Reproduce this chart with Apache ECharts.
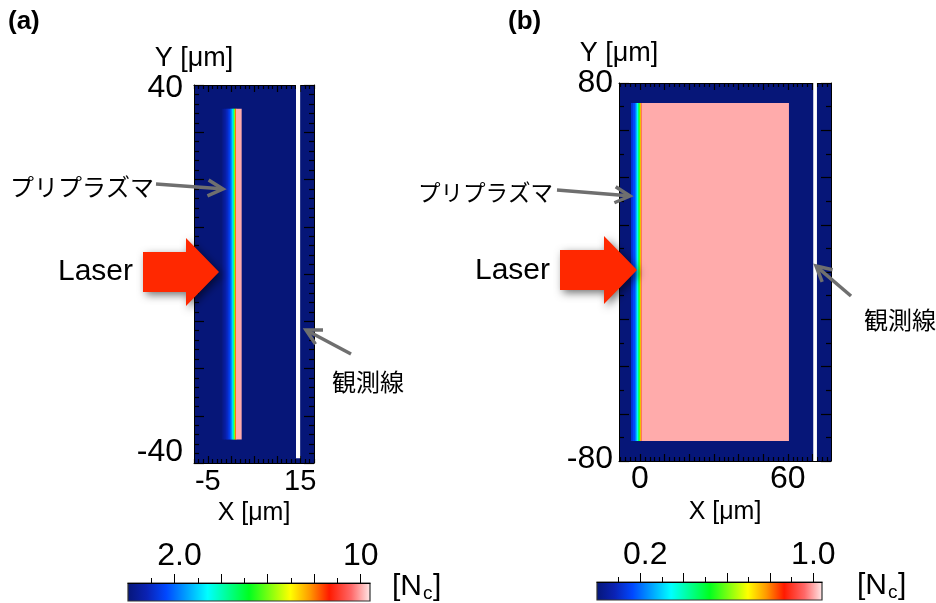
<!DOCTYPE html>
<html><head><meta charset="utf-8">
<script src="https://cdn.jsdelivr.net/npm/echarts@6/dist/echarts.min.js"></script>
<style>html,body{margin:0;padding:0;background:#fff}#c{width:936px;height:603px}</style>
</head><body><div id="c"></div>
<script>
// ---------------- data ----------------
const panelLetters = ['(a)', '(b)'];
const axisNameX = 'X [μm]';
const axisNameY = 'Y [μm]';
const unitMain = '[N';
const unitSub = 'c';
const unitEnd = ']';
const preplasmaText = 'プリプラズマ';
const laserText = 'Laser';
const obsText = '観測線';

// panel (a)
const xRangeA = [-8, 18];
const yRangeA = [-40, 40];
const xMajorA = [-5, 0, 5, 10, 15];
const xLabelA = [-5, 15];
const yMajorA = [-40, -30, -20, -10, 0, 10, 20, 30, 40];
const yLabelA = [-40, 40];
// pre-plasma strips: x edges [µm] and density [Nc]
const preEdgesA = [-2.0, -1.7, -1.4, -1.1, -0.8, -0.5, -0.2, 0.1, 0.35, 0.55, 0.75, 0.9, 1.1];
const preDensA  = [0.2, 0.4, 0.6, 0.85, 1.1, 1.45, 1.9, 2.7, 3.5, 4.8, 6.5, 8.0];
const targetA = [1.1, 2.2, -35, 35, 10];     // x0, x1, y0, y1, density
const obsLineA = [14.1, 15.0, -39, 40];
const cbRangeA = [0, 10.4];
const cbMajorA = [2, 4, 6, 8, 10];
const cbMinorA = [1, 3, 5, 7, 9];
const cbLabelA = [2, 10];
const cbLabelTextA = ['2.0', '10'];

// panel (b)
const xRangeB = [-8.5, 77.5];
const yRangeB = [-80, 80];
const xMajorB = [0, 10, 20, 30, 40, 50, 60, 70];
const xLabelB = [0, 60];
const yMajorB = [-80, -60, -40, -20, 0, 20, 40, 60, 80];
const yLabelB = [-80, 80];
const preEdgesB = [-3.6, -2.8, -2.0, -1.6, -1.2, -0.8, -0.4, 0.0, 0.3, 0.6];
const preDensB  = [0.13, 0.17, 0.22, 0.28, 0.34, 0.45, 0.56, 0.68, 0.85];
const targetB = [0.6, 60.2, -71.5, 71.5, 1.0];
const obsLineB = [70.3, 71.8, -80, 80];
const cbRangeB = [0, 1.04];
const cbMajorB = [0.2, 0.4, 0.6, 0.8, 1.0];
const cbMinorB = [0.1, 0.3, 0.5, 0.7, 0.9];
const cbLabelB = [0.2, 1.0];
const cbLabelTextB = ['0.2', '1.0'];

// ---------------- styles ----------------
const FONT = '"Liberation Sans", Arial, Helvetica, sans-serif';
const JFONT = '"Noto Sans CJK JP", "Noto Sans", sans-serif';
const cmap = [
  [0.00, '#061678'], [0.08, '#0a22b4'], [0.16, '#0048ff'], [0.25, '#00a8ff'],
  [0.33, '#00ffff'], [0.50, '#00ff20'], [0.67, '#ffff00'], [0.75, '#ff9a00'],
  [0.83, '#ff1a00'], [0.92, '#ff6868'], [1.00, '#ffeaea']
];
function hex2rgb(h){return [parseInt(h.substr(1,2),16),parseInt(h.substr(3,2),16),parseInt(h.substr(5,2),16)];}
function cmapColor(t){
  t = Math.max(0, Math.min(1, t));
  for (let i = 1; i < cmap.length; i++) {
    if (t <= cmap[i][0]) {
      const a = cmap[i-1], b = cmap[i];
      const f = (t - a[0]) / (b[0] - a[0]);
      const ca = hex2rgb(a[1]), cb = hex2rgb(b[1]);
      return 'rgb(' + ca.map((v,k)=>Math.round(v + (cb[k]-v)*f)).join(',') + ')';
    }
  }
  return cmap[cmap.length-1][1];
}
function minorTicks(range, step, majors){
  const out = [];
  const start = Math.ceil(range[0]/step)*step;
  for (let v = start; v <= range[1] + 1e-9; v += step) {
    const r = Math.round(v*1000)/1000;
    if (!majors.some(m => Math.abs(m - r) < 1e-6)) out.push(r);
  }
  return out;
}
function fieldRects(xr, yr, edges, dens, target){
  const rows = [[xr[0], xr[1], yr[0], yr[1], 0]];
  for (let i = 0; i < dens.length; i++) rows.push([edges[i], edges[i+1], target[2], target[3], dens[i]]);
  rows.push(target);
  return rows;
}

// ---------------- axes ----------------
function axis(gridIndex, position, range, ticks, len, extra){
  return Object.assign({
    type: 'value', gridIndex, position, min: range[0], max: range[1], z: 3,
    axisLine: {show: true, onZero: false, lineStyle: {color: '#000', width: 1}},
    axisTick: {show: true, inside: true, length: len, customValues: ticks, lineStyle: {color: '#000', width: 1.2}},
    axisLabel: {show: false},
    splitLine: {show: false}, minorTick: {show: false}, minorSplitLine: {show: false}
  }, extra || {});
}
function panelAxes(g, xr, yr, xMaj, xMinStep, xLab, yMaj, yMinStep, yLab, o){
  const xMin = minorTicks(xr, xMinStep, xMaj), yMin = minorTicks(yr, yMinStep, yMaj);
  const xs = [
    axis(g, 'bottom', xr, xMaj, o.xMajLen, {
      axisLabel: {show: true, customValues: xLab, fontSize: o.xFont, fontFamily: FONT, color: '#000', margin: o.xMargin},
      name: axisNameX, nameLocation: 'middle', nameGap: o.xNameGap,
      nameTextStyle: {fontSize: 25, fontFamily: FONT, color: '#000'}
    }),
    axis(g, 'bottom', xr, xMin, o.xMinLen, {axisLine: {show: false, onZero: false}}),
    axis(g, 'top', xr, xMaj, o.xMajLen),
    axis(g, 'top', xr, xMin, o.xMinLen, {axisLine: {show: false, onZero: false}})
  ];
  const ys = [
    axis(g, 'left', yr, yMaj, o.yMajLen, {
      axisLabel: {show: true, customValues: yLab, color: '#000', margin: o.yMargin,
        formatter: v => (v > 0 ? '{t|' + v + '}' : '{b|' + v + '}'),
        rich: {
          t: {fontSize: 32, fontFamily: FONT, color: '#000', padding: o.topPad},
          b: {fontSize: 32, fontFamily: FONT, color: '#000', padding: o.botPad}
        }},
      name: axisNameY, nameLocation: 'end', nameGap: o.yNameGap,
      nameTextStyle: {fontSize: 27, fontFamily: FONT, color: '#000'}
    }),
    axis(g, 'left', yr, yMin, o.yMinLen, {axisLine: {show: false, onZero: false}}),
    axis(g, 'right', yr, yMaj, o.yMajLen),
    axis(g, 'right', yr, yMin, o.yMinLen, {axisLine: {show: false, onZero: false}})
  ];
  return {xs, ys};
}
const axA = panelAxes(0, xRangeA, yRangeA, xMajorA, 1, xLabelA, yMajorA, 2, yLabelA,
  {xMajLen: 7, xMinLen: 4, yMajLen: 10, yMinLen: 5, xFont: 29, xMargin: 4, xNameGap: 30,
   yMargin: 11, yNameGap: 11, topPad: [6, 0, 0, 0], botPad: [0, 0, 22, 0]});
const axB = panelAxes(1, xRangeB, yRangeB, xMajorB, 2, xLabelB, yMajorB, 10, yLabelB,
  {xMajLen: 7, xMinLen: 4, yMajLen: 10, yMinLen: 5, xFont: 32, xMargin: 2, xNameGap: 33,
   yMargin: 6, yNameGap: 12, topPad: [0, 0, 0, 0], botPad: [0, 0, 4, 0]});

function cbAxes(g, range, maj, minr, labs, texts){
  return [
    {type: 'value', gridIndex: g, position: 'top', min: range[0], max: range[1], z: 3,
     axisLine: {show: true, onZero: false, lineStyle: {color: '#000'}},
     axisTick: {show: true, inside: false, length: 9, customValues: maj, lineStyle: {color: '#000'}},
     axisLabel: {show: true, customValues: labs, margin: 11, color: '#000',
       formatter: (v) => { const i = labs.findIndex(l => Math.abs(l - v) < 1e-6); return i === 0 ? '{f|' + texts[i] + '}' : '{n|' + texts[i] + '}'; },
       rich: {f: {fontSize: 32, fontFamily: FONT, color: '#000', padding: [0, 0, 0, 10]},
              n: {fontSize: 32, fontFamily: FONT, color: '#000'}}},
     splitLine: {show: false}},
    {type: 'value', gridIndex: g, position: 'top', min: range[0], max: range[1], z: 3,
     axisLine: {show: false, onZero: false},
     axisTick: {show: true, inside: false, length: 5, customValues: minr, lineStyle: {color: '#000'}},
     axisLabel: {show: false}, splitLine: {show: false}}
  ];
}
const cbXA = cbAxes(2, cbRangeA, cbMajorA, cbMinorA, cbLabelA, cbLabelTextA);
const cbXB = cbAxes(3, cbRangeB, cbMajorB, cbMinorB, cbLabelB, cbLabelTextB);
const cbY = g => ({type: 'value', gridIndex: g, min: 0, max: 1, show: false});

// ---------------- series ----------------
function fieldSeries(xi, yi, rows, vmax){
  return {
    type: 'custom', coordinateSystem: 'cartesian2d', xAxisIndex: xi, yAxisIndex: yi,
    clip: true, z: 1, silent: true, data: rows, encode: {x: [0, 1], y: [2, 3]},
    renderItem(params, api){
      const p0 = api.coord([api.value(0), api.value(3)]);
      const p1 = api.coord([api.value(1), api.value(2)]);
      return {type: 'rect', shape: {x: p0[0], y: p0[1], width: p1[0] - p0[0] + 0.6, height: p1[1] - p0[1]},
              style: {fill: cmapColor(api.value(4) / vmax)}};
    }
  };
}
function lineSeries(xi, yi, row){
  return {
    type: 'custom', coordinateSystem: 'cartesian2d', xAxisIndex: xi, yAxisIndex: yi,
    clip: false, z: 5, silent: true, data: [row], encode: {x: [0, 1], y: [2, 3]},
    renderItem(params, api){
      const p0 = api.coord([api.value(0), api.value(3)]);
      const p1 = api.coord([api.value(1), api.value(2)]);
      return {type: 'rect', shape: {x: p0[0], y: p0[1] - 1, width: p1[0] - p0[0], height: p1[1] - p0[1] + 1},
              style: {fill: '#ffffff'}};
    }
  };
}
function colorbarSeries(xi, yi, range){
  return {
    type: 'custom', coordinateSystem: 'cartesian2d', xAxisIndex: xi, yAxisIndex: yi,
    clip: false, z: 1, silent: true, data: [[range[0], range[1]]], encode: {x: [0, 1]},
    renderItem(params, api){
      const p0 = api.coord([api.value(0), 1]);
      const p1 = api.coord([api.value(1), 0]);
      return {type: 'rect', shape: {x: p0[0], y: p0[1], width: p1[0] - p0[0], height: p1[1] - p0[1]},
              style: {fill: new echarts.graphic.LinearGradient(0, 0, 1, 0,
                cmap.map(s => ({offset: s[0], color: s[1]}))), stroke: '#333', lineWidth: 1.2}};
    }
  };
}

// ---------------- annotations ----------------
const GRAY = '#6f6f6f';
function grayArrow(x1, y1, x2, y2){
  const dx = x2 - x1, dy = y2 - y1, L = Math.hypot(dx, dy);
  const ux = dx / L, uy = dy / L, nx = -uy, ny = ux;
  const hl = 15, hw = 8;
  return [
    {type: 'line', shape: {x1, y1, x2: x2 - ux * 2, y2: y2 - uy * 2}, style: {stroke: GRAY, lineWidth: 3.5}, z: 20},
    {type: 'polyline', shape: {points: [[x2 - ux*hl + nx*hw, y2 - uy*hl + ny*hw], [x2, y2], [x2 - ux*hl - nx*hw, y2 - uy*hl - ny*hw]]},
     style: {stroke: GRAY, lineWidth: 3.5, fill: null, lineJoin: 'miter'}, z: 20}
  ];
}
function redArrow(x0, xb, xt, yc, bh, hh){
  return {type: 'polygon', z: 20,
    shape: {points: [[x0, yc - bh], [xb, yc - bh], [xb, yc - hh], [xt, yc], [xb, yc + hh], [xb, yc + bh], [x0, yc + bh]]},
    style: {fill: '#ff2800', shadowBlur: 8, shadowColor: 'rgba(0,0,0,0.55)', shadowOffsetX: 3, shadowOffsetY: 3}};
}
function txt(x, y, s, font, align, extra){
  return Object.assign({type: 'text', z: 20, style: {x, y, text: s, font, fill: '#000', textAlign: align || 'left', textVerticalAlign: 'middle'}}, extra || {});
}
const graphics = [
  txt(8, 22, panelLetters[0], 'bold 26px ' + FONT),
  txt(508, 22, panelLetters[1], 'bold 26px ' + FONT),
  txt(10, 187, preplasmaText, '24px ' + JFONT),
  txt(418, 192, preplasmaText, '22.5px ' + JFONT),
  ...grayArrow(156, 184, 223, 189),
  ...grayArrow(557, 190, 630, 196),
  txt(58, 272, laserText, '30px ' + FONT),
  txt(475, 271, laserText, '30px ' + FONT),
  redArrow(143, 186, 219, 272, 20, 34),
  redArrow(560, 604, 637, 270, 20, 34),
  txt(368, 382, obsText, '24px ' + JFONT, 'center'),
  txt(900, 320, obsText, '24px ' + JFONT, 'center'),
  ...grayArrow(351, 354, 306, 330),
  ...grayArrow(851, 296, 816, 266),
  // unit labels [Nc]
  txt(392, 587, unitMain, '30px ' + FONT),
  txt(423, 594, unitSub, '19px ' + FONT),
  txt(433, 587, unitEnd, '30px ' + FONT),
  txt(857, 586, unitMain, '30px ' + FONT),
  txt(888, 593, unitSub, '19px ' + FONT),
  txt(898, 586, unitEnd, '30px ' + FONT)
];

const chart = echarts.init(document.getElementById('c'), null, {renderer: 'canvas'});
chart.setOption({
  animation: false,
  backgroundColor: '#ffffff',
  grid: [
    {left: 194, top: 85, width: 120, height: 378},
    {left: 619, top: 83, width: 212, height: 378},
    {left: 128, top: 583, width: 242, height: 18},
    {left: 597, top: 582, width: 225, height: 18}
  ],
  xAxis: [...axA.xs, ...axB.xs, ...cbXA, ...cbXB],
  yAxis: [...axA.ys, ...axB.ys, cbY(2), cbY(3)],
  series: [
    fieldSeries(0, 0, fieldRects(xRangeA, yRangeA, preEdgesA, preDensA, targetA), cbRangeA[1]),
    lineSeries(0, 0, obsLineA),
    fieldSeries(4, 4, fieldRects(xRangeB, yRangeB, preEdgesB, preDensB, targetB), cbRangeB[1]),
    lineSeries(4, 4, obsLineB),
    colorbarSeries(8, 8, cbRangeA),
    colorbarSeries(10, 9, cbRangeB)
  ],
  graphic: graphics
});
</script></body></html>
